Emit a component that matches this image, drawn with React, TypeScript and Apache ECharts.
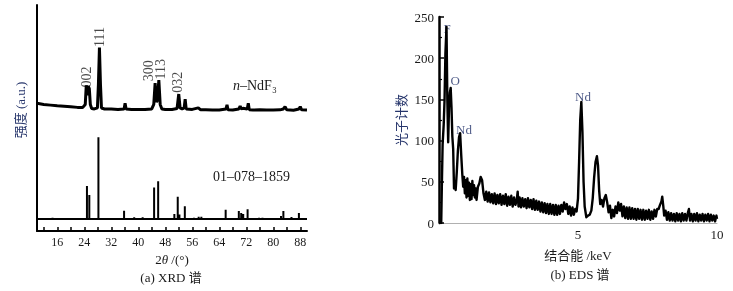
import React, { useEffect, useRef } from "react";
import * as echarts from "echarts";

// ---------- (a) XRD ----------
const xrdCurve: [number, number][] = [
  [10, 56.5], [12, 56], [14, 55.7], [16, 55.4], [18, 55.2], [20, 55], [22, 54.7], [23.5, 54.6],
  [24.3, 56], [24.6, 64.5], [24.9, 60], [25.2, 64], [25.5, 63], [25.8, 56], [26.2, 54.2], [27, 54],
  [27.9, 54.5], [28.2, 65], [28.5, 81.2], [28.8, 65], [29.1, 54.4], [30, 54], [32, 54], [34, 53.8],
  [35.8, 54], [36.1, 56.5], [36.4, 54], [38, 53.8], [40, 53.8], [42, 53.8], [44, 54], [44.6, 56],
  [45.0, 65.4], [45.4, 57], [45.7, 58], [46.1, 66.8], [46.5, 56], [47, 54], [48, 53.8], [50, 53.8],
  [51.5, 54.2], [52, 60.6], [52.4, 54.5], [53, 54], [53.6, 54.5], [53.9, 58.3], [54.2, 54], [56, 53.8],
  [57.8, 54.5], [58.5, 53.6], [60, 53.6], [62, 53.5], [64, 53.5], [66, 54], [66.3, 55.8], [66.6, 53.6],
  [68, 53.5], [69.8, 54], [70.2, 55.3], [70.5, 54], [71, 54.3], [72.3, 54], [72.6, 56.5], [72.9, 53.7],
  [74, 53.5], [76, 53.6], [78, 53.5], [80, 53.5], [82, 53.6], [83, 54], [83.5, 55], [84, 53.6],
  [86, 53.4], [87.6, 54], [88.0, 55], [88.4, 53.6], [90, 53.5],
];

const refBase = 5.3;
const refTheta = [14.6, 24.8, 25.5, 28.2, 28.9, 35.8, 38.8, 41.3, 44.7, 45.9, 47.0, 50.7, 51.7, 52.2, 53.8,
  55.0, 56.5, 57.9, 58.7, 60.0, 65.9, 67.0, 68.0, 69.8, 70.5, 71.1, 72.4, 75.8, 76.8, 78.0, 79.0, 80.0,
  82.3, 83.0, 85.4, 87.6, 89.0];
const refHeight = [0.6, 14.6, 10.6, 36.2, 0.5, 3.7, 0.8, 0.8, 13.9, 16.7, 0.5, 2.2, 9.9, 2.0, 5.7,
  0.5, 0.6, 1.0, 1.0, 0.4, 4.1, 0.5, 0.5, 3.5, 2.7, 2.2, 4.3, 0.6, 0.6, 0.4, 0.4, 0.5,
  1.3, 3.5, 0.9, 2.7, 0.3];

const hklText = ["002", "111", "300", "113", "032"];
const hklTheta = [24.9, 28.7, 43.3, 46.7, 51.7];
const hklY = [63.3, 81.2, 66, 66.8, 60.9];

const xrdTicks = [12, 16, 20, 24, 28, 32, 36, 40, 44, 48, 52, 56, 60, 64, 68, 72, 76, 80, 84, 88];
const xrdLabels = [16, 24, 32, 40, 48, 56, 64, 72, 80, 88];

// ---------- (b) EDS ----------
const edsSpectrum: [number, number][] = [
  [0, 0], [0.08, 0], [0.1, 40], [0.13, 95], [0.17, 120], [0.2, 150], [0.23, 205], [0.27, 238], [0.3, 150],
  [0.33, 98], [0.36, 140], [0.39, 158], [0.42, 164], [0.45, 140], [0.48, 105], [0.51, 90], [0.54, 42],
  [0.57, 45], [0.6, 40], [0.64, 62], [0.68, 88], [0.72, 104], [0.76, 109], [0.8, 82], [0.84, 58], [0.87, 44],
  [0.9, 56], [0.93, 36], [0.96, 52], [0.99, 31], [1.02, 54], [1.05, 33], [1.08, 49], [1.11, 28], [1.14, 47],
  [1.17, 29], [1.2, 51], [1.23, 34], [1.26, 46], [1.29, 31], [1.32, 42], [1.35, 28], [1.4, 44], [1.45, 48],
  [1.5, 56], [1.55, 52], [1.6, 36], [1.65, 28],
  [1.7, 38], [1.75, 26], [1.8, 37], [1.85, 25], [1.9, 35], [1.95, 24], [2.0, 36], [2.05, 23], [2.1, 34],
  [2.15, 24], [2.2, 35], [2.25, 22], [2.3, 33], [2.35, 23], [2.4, 35], [2.45, 21], [2.5, 32], [2.55, 22],
  [2.6, 33], [2.65, 20], [2.7, 31], [2.75, 22], [2.8, 29], [2.83, 38], [2.86, 20], [2.9, 31], [2.95, 19],
  [3.0, 30], [3.05, 20], [3.1, 29], [3.15, 18], [3.2, 30], [3.25, 19], [3.3, 28], [3.35, 17], [3.4, 29],
  [3.45, 16], [3.5, 27], [3.55, 16], [3.6, 26], [3.65, 14], [3.7, 25], [3.75, 13], [3.8, 24], [3.85, 12],
  [3.9, 23], [3.95, 11], [4.0, 23], [4.05, 11], [4.1, 22], [4.15, 10], [4.2, 22], [4.25, 10], [4.3, 21],
  [4.35, 11], [4.4, 22], [4.45, 14], [4.5, 25], [4.55, 17], [4.6, 23], [4.65, 11], [4.7, 20], [4.75, 9],
  [4.8, 19], [4.85, 10], [4.9, 17],
  [4.95, 14], [5.0, 30], [5.04, 75], [5.08, 125], [5.12, 147], [5.16, 110], [5.2, 50], [5.24, 20], [5.3, 7],
  [5.36, 9], [5.42, 10], [5.48, 15], [5.53, 30], [5.58, 55], [5.63, 74], [5.68, 81], [5.72, 70], [5.76, 40],
  [5.8, 23], [5.85, 28], [5.9, 20], [5.95, 30], [6.0, 34], [6.05, 25], [6.1, 13], [6.15, 21], [6.2, 6],
  [6.25, 16], [6.3, 8], [6.35, 20], [6.4, 12], [6.45, 25], [6.5, 15], [6.55, 23], [6.6, 8], [6.65, 20],
  [6.7, 6], [6.75, 19], [6.8, 5], [6.85, 19], [6.9, 5], [6.95, 18], [7.0, 5], [7.05, 17], [7.1, 4],
  [7.15, 17], [7.2, 5], [7.25, 16], [7.3, 4], [7.35, 16], [7.4, 4], [7.45, 15], [7.5, 5], [7.55, 16],
  [7.6, 4], [7.65, 14], [7.7, 5], [7.75, 16], [7.8, 8], [7.85, 17], [7.9, 17], [7.95, 22], [8.0, 26],
  [8.03, 32], [8.07, 20], [8.1, 9], [8.15, 15], [8.2, 4], [8.25, 13], [8.3, 3], [8.35, 12], [8.4, 3],
  [8.45, 11], [8.5, 2], [8.55, 12], [8.6, 3], [8.65, 11], [8.7, 2], [8.75, 12], [8.8, 3], [8.85, 11],
  [8.9, 3], [8.95, 12], [8.99, 17], [9.03, 3], [9.08, 11], [9.13, 2], [9.18, 11], [9.23, 3], [9.28, 12],
  [9.33, 2], [9.38, 10], [9.43, 3], [9.48, 11], [9.53, 2], [9.58, 10], [9.63, 3], [9.68, 11], [9.73, 2],
  [9.78, 10], [9.83, 3], [9.88, 9], [9.93, 2], [9.98, 9], [10.0, 5],
];

const edsLabelText = ["F", "O", "Nd", "Nd"];
const edsLabelX = [0.29, 0.58, 0.9, 5.18];
const edsLabelY = [236.6, 173.5, 113, 153];

const edsXLabels = [5, 10];

const SERIF = "'Liberation Serif', 'Noto Sans CJK SC', serif";
const BLUE = "#26356b";
const DARK = "#1a1a1a";

export default function App() {
  const ref = useRef<HTMLDivElement>(null);

  useEffect(() => {
    if (!ref.current) return;
    const chart = echarts.init(ref.current, undefined, { renderer: "svg" });

    const refData: [number, number][] = [[10, refBase]];
    refTheta.forEach((t, i) => {
      refData.push([t, refBase], [t, refBase + refHeight[i]], [t, refBase]);
    });
    refData.push([90, refBase]);

    const hklData = hklTheta.map((t, i) => [t, hklY[i], hklText[i]]);
    const edsLabels = edsLabelX.map((x, i) => [x, edsLabelY[i], edsLabelText[i]]);

    const option: any = {
      animation: false,
      grid: [
        { left: 37, top: 5, width: 270, height: 226 },
        { left: 439, top: 17, width: 278, height: 206 },
      ],
      xAxis: [
        {
          gridIndex: 0,
          type: "value",
          min: 10,
          max: 90,
          name: "2{i|θ} /(°)",
          nameLocation: "middle",
          nameGap: 21,
          nameTextStyle: {
            fontSize: 13,
            fontFamily: SERIF,
            color: DARK,
            rich: { i: { fontStyle: "italic", fontSize: 13, fontFamily: SERIF, color: DARK } },
          },
          axisLine: { show: true, lineStyle: { color: "#000", width: 2 } },
          axisTick: { show: true, inside: true, length: 4, customValues: xrdTicks, lineStyle: { color: "#000", width: 1.5 } },
          axisLabel: { show: true, customValues: xrdLabels, fontSize: 12, fontFamily: SERIF, color: DARK, margin: 5 },
          splitLine: { show: false },
        },
        {
          gridIndex: 1,
          type: "value",
          min: 0,
          max: 10,
          name: "结合能 /keV",
          nameLocation: "middle",
          nameGap: 26,
          nameTextStyle: { fontSize: 13, fontFamily: SERIF, color: DARK },
          axisLine: { show: true, lineStyle: { color: "#b0b0b0", width: 1 } },
          axisTick: { show: false },
          axisLabel: { show: true, customValues: edsXLabels, fontSize: 13, fontFamily: SERIF, color: DARK, margin: 5 },
          splitLine: { show: false },
        },
      ],
      yAxis: [
        {
          gridIndex: 0,
          type: "value",
          min: 0,
          max: 100,
          axisLine: { show: true, lineStyle: { color: "#000", width: 2 } },
          axisTick: { show: false },
          axisLabel: { show: false },
          splitLine: { show: false },
        },
        {
          gridIndex: 1,
          type: "value",
          min: 0,
          max: 250,
          interval: 50,
          name: "光子计数",
          nameLocation: "middle",
          nameRotate: 90,
          nameGap: 31,
          nameTextStyle: { fontSize: 13, fontFamily: SERIF, color: BLUE },
          axisLine: { show: true, lineStyle: { color: "#000", width: 2.5 } },
          axisTick: { show: true, inside: true, length: 5, lineStyle: { color: "#000", width: 1.5 } },
          minorTick: { show: true, splitNumber: 2, length: 3, lineStyle: { color: "#000", width: 1.2 } },
          axisLabel: { show: true, fontSize: 13, fontFamily: SERIF, color: DARK, margin: 5 },
          splitLine: { show: false },
          minorSplitLine: { show: false },
        },
      ],
      series: [
        {
          type: "line",
          xAxisIndex: 0,
          yAxisIndex: 0,
          data: xrdCurve,
          symbol: "none",
          silent: true,
          lineStyle: { color: "#000", width: 3 },
        },
        {
          type: "line",
          xAxisIndex: 0,
          yAxisIndex: 0,
          data: refData,
          symbol: "none",
          silent: true,
          lineStyle: { color: "#000", width: 2 },
        },
        {
          type: "scatter",
          xAxisIndex: 0,
          yAxisIndex: 0,
          data: hklData,
          symbolSize: 1,
          silent: true,
          itemStyle: { color: "rgba(0,0,0,0)" },
          label: {
            show: true,
            formatter: (p: any) => p.data[2],
            position: [0, 0],
            rotate: 90,
            align: "left",
            verticalAlign: "middle",
            fontSize: 14,
            fontFamily: SERIF,
            color: DARK,
          },
        },
        {
          type: "line",
          xAxisIndex: 1,
          yAxisIndex: 1,
          data: edsSpectrum,
          symbol: "none",
          silent: true,
          lineStyle: { color: "#000", width: 2.4, join: "round" },
        },
        {
          type: "scatter",
          xAxisIndex: 1,
          yAxisIndex: 1,
          data: edsLabels,
          symbolSize: 1,
          silent: true,
          itemStyle: { color: "rgba(0,0,0,0)" },
          label: {
            show: true,
            formatter: (p: any) => p.data[2],
            position: "inside",
            align: "center",
            verticalAlign: "middle",
            fontSize: 13,
            fontFamily: SERIF,
            color: BLUE,
          },
        },
      ],
      graphic: [
        {
          type: "text",
          x: 20,
          y: 110,
          rotation: Math.PI / 2,
          silent: true,
          style: { text: "强度 (a.u.)", fontSize: 13, fontFamily: SERIF, fill: BLUE, align: "center", verticalAlign: "middle" },
        },
        {
          type: "text",
          x: 233,
          y: 85,
          silent: true,
          style: {
            text: "{i|n}–NdF₃",
            fontSize: 14,
            fontFamily: SERIF,
            fill: DARK,
            align: "left",
            verticalAlign: "middle",
            rich: { i: { fontStyle: "italic", fontSize: 14, fontFamily: SERIF, fill: DARK } },
          },
        },
        {
          type: "text",
          x: 213,
          y: 176,
          silent: true,
          style: { text: "01–078–1859", fontSize: 14, fontFamily: SERIF, fill: DARK, align: "left", verticalAlign: "middle" },
        },
        {
          type: "text",
          x: 171,
          y: 277,
          silent: true,
          style: { text: "(a) XRD 谱", fontSize: 13, fontFamily: SERIF, fill: DARK, align: "center", verticalAlign: "middle" },
        },
        {
          type: "text",
          x: 580,
          y: 274,
          silent: true,
          style: { text: "(b) EDS 谱", fontSize: 13, fontFamily: SERIF, fill: DARK, align: "center", verticalAlign: "middle" },
        },
      ],
    };

    chart.setOption(option);
    return () => chart.dispose();
  }, []);

  return <div ref={ref} style={{ position: "fixed", left: 0, top: 0, width: 733, height: 291 }} />;
}
